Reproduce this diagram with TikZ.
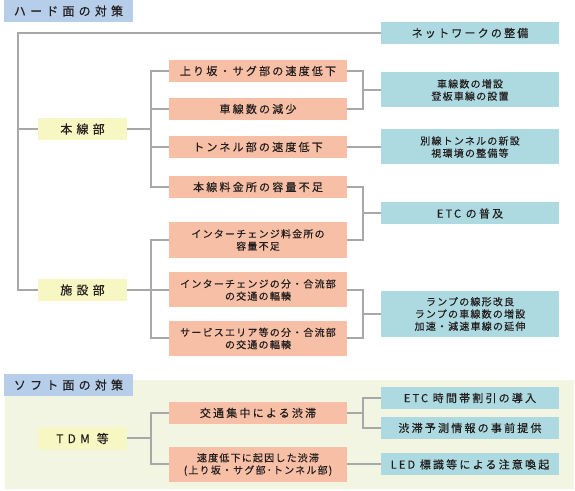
\documentclass[tikz,border=0pt]{standalone}
\usepackage{fontspec}
\newfontfamily\jpwide[LetterSpace=35,FakeBold=0.3]{Noto Sans CJK JP}
\newfontfamily\jpmid[LetterSpace=20,FakeBold=0.3]{Noto Sans CJK JP}
\newfontfamily\jpsmall[LetterSpace=12,FakeBold=0.3]{Noto Sans CJK JP}
\definecolor{headblue}{RGB}{182,206,234}
\definecolor{causepink}{RGB}{247,191,166}
\definecolor{partyellow}{RGB}{247,247,196}
\definecolor{measureteal}{RGB}{173,217,224}
\definecolor{softgreen}{RGB}{241,245,225}
\definecolor{linkgray}{RGB}{168,168,168}
\definecolor{inkgray}{RGB}{35,30,30}
\tikzset{
  headbox/.style={fill=headblue,minimum width=96.75pt,minimum height=16.5pt,inner sep=0pt,text=inkgray,font=\jpwide\fontsize{9}{11}\selectfont},
  partbox/.style={fill=partyellow,minimum width=66.75pt,minimum height=16.5pt,inner sep=0pt,text=inkgray,font=\jpwide\fontsize{9}{11}\selectfont},
  causebox/.style={fill=causepink,minimum width=133.5pt,minimum height=16.5pt,inner sep=0pt,align=center,text=inkgray,font=\jpmid\fontsize{8.25}{10}\selectfont},
  causetwo/.style={causebox,minimum height=26.25pt,font=\jpsmall\fontsize{7.5}{9.2}\selectfont},
  measurebox/.style={fill=measureteal,minimum width=133.5pt,minimum height=16.5pt,inner sep=0pt,align=center,text=inkgray,font=\jpmid\fontsize{8.25}{10}\selectfont},
  measuretwo/.style={measurebox,minimum height=26.25pt,font=\jpsmall\fontsize{7.5}{9.2}\selectfont},
  link/.style={draw=linkgray,line width=1.5}
}

\begin{document}
\begin{tikzpicture}[x=0.75pt,y=0.75pt,yscale=-1]
\useasboundingbox (0,0) rectangle (575,491);

%soft background
\fill [softgreen] (5,380) rectangle (574,489);

%hard measures
\node [headbox] (hardhead) at (68.5,11) {ハード面の対策};
\node [measurebox] (net) at (470,33) {ネットワークの整備};
\node [partbox] (honsen) at (82.5,129) {本線部};
\node [partbox] (shisetsu) at (82.5,290) {施設部};

\node [causebox] (slope) at (258,71) {上り坂・サグ部の速度低下};
\node [causebox] (lanes) at (258,109) {車線数の減少};
\node [causebox] (tunnel) at (258,147) {トンネル部の速度低下};
\node [causebox] (mainbooth) at (258,187) {本線料金所の容量不足};
\node [causetwo,minimum height=27pt] (icbooth) at (258,240) {インターチェンジ料金所の\\容量不足};
\node [causetwo] (icmerge) at (258,290) {インターチェンジの分・合流部\\の交通の輻輳};
\node [causetwo] (samerge) at (258,338.5) {サービスエリア等の分・合流部\\の交通の輻輳};

\node [measuretwo] (addlane) at (470,90) {車線数の増設\\登板車線の設置};
\node [measuretwo] (newtunnel) at (470,147) {別線トンネルの新設\\視環境の整備等};
\node [measurebox] (etc) at (470,213.5) {ETC の普及};
\node [measuretwo,minimum height=34.5pt] (ramp) at (470,314) {ランプの線形改良\\ランプの車線数の増設\\加速・減速車線の延伸};

%soft measures
\node [headbox] (softhead) at (68.5,385) {ソフト面の対策};
\node [partbox,minimum height=17.25pt] (tdm) at (82.5,438.5) {TDM 等};
\node [causebox] (peak) at (258,413) {交通集中による渋滞};
\node [causetwo] (slowdown) at (258,464.5) {速度低下に起因した渋滞\\(上り坂・サグ部･トンネル部)};
\node [measurebox] (etcdisc) at (470,398) {ETC 時間帯割引の導入};
\node [measurebox] (forecast) at (470,428) {渋滞予測情報の事前提供};
\node [measurebox] (led) at (470,464.5) {LED 標識等による注意喚起};

%bracket columns
\coordinate (spine) at (18,0);
\coordinate (leftbar) at (151,0);
\coordinate (rightbar) at (363,0);

%connectors
\draw [link] (net.west) -| (spine |- shisetsu.west) -- (shisetsu.west);
\draw [link] (honsen.west) -- (spine |- honsen.west);
\draw [link] (honsen.east) -- (leftbar |- honsen.east);
\draw [link] (slope.west) -| (leftbar |- mainbooth.west) -- (mainbooth.west);
\draw [link] (lanes.west) -- (leftbar |- lanes.west);
\draw [link] (tunnel.west) -- (leftbar |- tunnel.west);
\draw [link] (shisetsu.east) -- (icmerge.west);
\draw [link] (icbooth.west) -| (leftbar |- samerge.west) -- (samerge.west);

\draw [link] (slope.east) -| (rightbar |- lanes.east) -- (lanes.east);
\draw [link] (rightbar |- addlane.west) -- (addlane.west);
\draw [link] (tunnel.east) -- (newtunnel.west);
\draw [link] (mainbooth.east) -| (rightbar |- icbooth.east) -- (icbooth.east);
\draw [link] (rightbar |- etc.west) -- (etc.west);
\draw [link] (icmerge.east) -| (rightbar |- samerge.east) -- (samerge.east);
\draw [link] (rightbar |- ramp.west) -- (ramp.west);

\draw [link] (tdm.east) -- (leftbar |- tdm.east);
\draw [link] (peak.west) -| (leftbar |- slowdown.west) -- (slowdown.west);
\draw [link] (etcdisc.west) -| (rightbar |- forecast.west) -- (forecast.west);
\draw [link] (peak.east) -- (rightbar |- peak.east);
\draw [link] (slowdown.east) -- (led.west);

\end{tikzpicture}
\end{document}
